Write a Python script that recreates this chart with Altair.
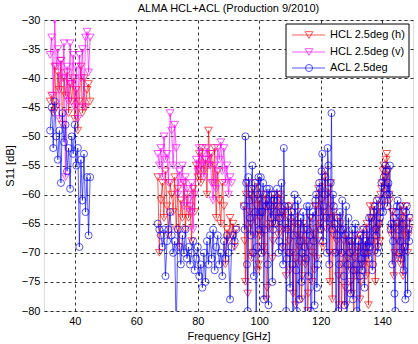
import altair as alt
import pandas as pd

# ---------------- data ----------------
band1_freq = [32.0, 32.5, 33.0, 33.5, 34.0, 34.5, 35.0, 35.5, 36.0, 36.5,
              37.0, 37.5, 38.0, 38.5, 39.0, 39.5, 40.0, 40.5, 41.0, 41.5,
              42.0, 42.5, 43.0, 43.5, 44.0, 44.5, 45.0]
band2_freq = [67.0, 67.5, 68.0, 68.5, 69.0, 69.5, 70.0, 70.5, 71.0, 71.5,
              72.0, 72.5, 73.0, 73.5, 74.0, 74.5, 75.0, 75.5, 76.0, 76.5,
              77.0, 77.5, 78.0, 78.5, 79.0, 79.5, 80.0, 80.5, 81.0, 81.5,
              82.0, 82.5, 83.0, 83.5, 84.0, 84.5, 85.0, 85.5, 86.0, 86.5,
              87.0, 87.5, 88.0, 88.5, 89.0, 89.5, 90.0, 90.5, 91.0, 91.5,
              92.0, 92.5]
band3_freq = [95.0, 95.5, 96.0, 96.5, 97.0, 97.5, 98.0, 98.5, 99.0, 99.5,
              100.0, 100.5, 101.0, 101.5, 102.0, 102.5, 103.0, 103.5, 104.0, 104.5,
              105.0, 105.5, 106.0, 106.5, 107.0, 107.5, 108.0, 108.5, 109.0, 109.5,
              110.0, 110.5, 111.0, 111.5, 112.0, 112.5, 113.0, 113.5, 114.0, 114.5,
              115.0, 115.5, 116.0, 116.5, 117.0, 117.5, 118.0, 118.5, 119.0, 119.5,
              120.0, 120.5, 121.0, 121.5, 122.0, 122.5, 123.0, 123.5, 124.0, 124.5,
              125.0, 125.5, 126.0, 126.5, 127.0, 127.5, 128.0, 128.5, 129.0, 129.5,
              130.0, 130.5, 131.0, 131.5, 132.0, 132.5, 133.0, 133.5, 134.0, 134.5,
              135.0, 135.5, 136.0, 136.5, 137.0, 137.5, 138.0, 138.5, 139.0, 139.5,
              140.0, 140.5, 141.0, 141.5, 142.0, 142.5, 143.0, 143.5, 144.0, 144.5,
              145.0, 145.5, 146.0, 146.5, 147.0, 147.5, 148.0, 148.5, 149.0]
band3b_freq = [95.25, 95.75, 96.25, 96.75, 97.25, 97.75, 98.25, 98.75, 99.25, 99.75,
               100.25, 100.75, 101.25, 101.75, 102.25, 102.75, 103.25, 103.75, 104.25, 104.75,
               105.25, 105.75, 106.25, 106.75, 107.25, 107.75, 108.25, 108.75, 109.25, 109.75,
               110.25, 110.75, 111.25, 111.75, 112.25, 112.75, 113.25, 113.75, 114.25, 114.75,
               115.25, 115.75, 116.25, 116.75, 117.25, 117.75, 118.25, 118.75, 119.25, 119.75,
               120.25, 120.75, 121.25, 121.75, 122.25, 122.75, 123.25, 123.75, 124.25, 124.75,
               125.25, 125.75, 126.25, 126.75, 127.25, 127.75, 128.25, 128.75, 129.25, 129.75,
               130.25, 130.75, 131.25, 131.75, 132.25, 132.75, 133.25, 133.75, 134.25, 134.75,
               135.25, 135.75, 136.25, 136.75, 137.25, 137.75, 138.25, 138.75, 139.25, 139.75,
               140.25, 140.75, 141.25, 141.75, 142.25, 142.75, 143.25, 143.75, 144.25, 144.75,
               145.25, 145.75, 146.25, 146.75, 147.25, 147.75, 148.25, 148.75]

hcl_h_b1 = [-44, -43, -46, -38, -45, -39, -42, -37, -48, -40,
            -43, -39, -46, -41, -44, -40, -47, -42, -49, -44,
            -38, -46, -40, -45, -42, -41, -44]
hcl_v_b1 = [-36, -33, -43, -30, -38, -35, -47, -37, -40, -34,
            -57, -38, -44, -34, -41, -36, -45, -38, -47, -36,
            -40, -35, -45, -33, -32, -39, -33]
acl_b1 = [-49, -45, -52, -44, -50, -54, -49, -58, -46, -51,
          -48, -56, -52, -59, -50, -53, -48, -55, -52, -69,
          -54, -61, -53, -63, -57, -67, -57]

hcl_h_b2 = [-57, -70, -61, -58, -64, -56, -62, -67, -58, -60,
            -63, -57, -66, -59, -69, -61, -64, -58, -66, -60,
            -64, -62, -68, -59, -63, -55, -57, -53, -58, -52,
            -56, -54, -60, -49, -55, -53, -58, -52, -64, -56,
            -61, -65, -58, -62, -72, -66, -68, -64, -67, -65,
            -69, -66]
hcl_v_b2 = [-53, -55, -52, -57, -50, -54, -53, -58, -46, -49,
            -55, -48, -52, -60, -56, -58, -55, -62, -57, -59,
            -61, -63, -58, -66, -60, -54, -56, -52, -55, -53,
            -57, -54, -52, -55, -53, -58, -61, -55, -59, -52,
            -54, -51, -56, -52, -58, -55, -60, -57, -58]
acl_b2 = [-65, -66, -67, -69, -66, -74, -68, -66, -63, -67,
          -70, -68, -85, -66, -69, -72, -67, -70, -66, -71,
          -69, -72, -70, -68, -73, -71, -69, -74, -72, -76,
          -70, -75, -68, -72, -67, -71, -66, -73, -69, -67,
          -72, -70, -74, -68, -71, -67, -70, -78, -69, -67,
          -68, -66]

hcl_h_b3 = [-62, -75, -58, -66, -60, -71, -59, -64, -62, -73,
            -61, -67, -63, -70, -60, -76, -62, -65, -61, -68,
            -62, -64, -60, -66, -61, -63, -66, -62, -70, -64,
            -73, -66, -77, -65, -71, -63, -69, -67, -74, -65,
            -72, -68, -77, -64, -70, -66, -73, -62, -68, -60,
            -65, -58, -63, -56, -66, -59, -75, -62, -67, -64,
            -70, -66, -79, -65, -72, -68, -76, -67, -73, -69,
            -77, -68, -71, -74, -70, -67, -75, -69, -72, -68,
            -65, -79, -62, -68, -64, -66, -63, -69, -65, -60,
            -58, -55, -57, -53, -56, -61, -67, -63, -70, -65,
            -68, -64, -72, -66, -63, -69, -65, -67, -64]
hcl_h_b3b = [-68, -60, -77, -63, -65, -70, -61, -67, -58, -72,
             -64, -60, -69, -62, -78, -61, -66, -63, -71, -60,
             -65, -62, -67, -60, -64, -69, -63, -74, -66, -68,
             -62, -70, -64, -79, -67, -72, -65, -78, -68, -71,
             -66, -80, -69, -64, -75, -67, -62, -71, -59, -66,
             -61, -69, -57, -64, -60, -70, -58, -78, -63, -66,
             -68, -74, -64, -82, -70, -66, -79, -71, -68, -75,
             -70, -81, -67, -73, -69, -78, -72, -66, -70, -74,
             -67, -72, -64, -70, -62, -75, -66, -61, -68, -59,
             -56, -62, -54, -59, -60, -66, -63, -74, -66, -71,
             -65, -70, -62, -74, -67, -62, -70, -66]
acl_b3 = [-62, -50, -72, -57, -64, -59, -70, -58, -85, -60,
          -66, -57, -63, -78, -61, -59, -79, -62, -60, -66,
          -60, -63, -61, -68, -63, -69, -52, -65, -71, -62,
          -76, -63, -85, -60, -73, -61, -78, -64, -70, -66,
          -85, -62, -74, -67, -85, -63, -79, -60, -72, -58,
          -66, -53, -62, -57, -70, -55, -64, -46, -60, -65,
          -85, -64, -72, -66, -61, -74, -67, -85, -64, -70,
          -68, -78, -66, -72, -69, -85, -67, -73, -70, -68,
          -66, -71, -69, -64, -72, -62, -67, -70, -65, -63,
          -61, -57, -55, -60, -58, -55, -65, -68, -77, -63,
          -61, -70, -68, -64, -73, -78, -62, -66, -64]
acl_b3b = [-66, -58, -80, -61, -67, -55, -74, -63, -69, -57,
           -63, -70, -58, -66, -62, -72, -59, -64, -75, -61,
           -65, -59, -70, -64, -58, -72, -62, -80, -66, -70,
           -64, -72, -67, -62, -80, -65, -68, -75, -63, -69,
           -71, -66, -62, -80, -64, -68, -61, -76, -63, -59,
           -56, -68, -60, -64, -52, -72, -58, -66, -62, -70,
           -67, -80, -63, -70, -66, -79, -62, -72, -68, -77,
           -66, -73, -65, -80, -68, -74, -71, -66, -76, -69,
           -70, -64, -68, -73, -63, -66, -61, -69, -64, -58,
           -63, -59, -56, -62, -60, -66, -72, -64, -80, -62,
           -66, -62, -71, -65, -69, -63, -77, -68]

series_names = ["HCL 2.5deg (h)", "HCL 2.5deg (v)", "ACL 2.5deg"]
series_colors = ["#ff0000", "#ff00ff", "#0000ff"]
x_ticks = [40, 60, 80, 100, 120, 140]
y_ticks = [-30, -35, -40, -45, -50, -55, -60, -65, -70, -75, -80]

rows = []
def add(series, seg, freqs, vals):
    for f, v in zip(freqs, vals):
        rows.append({"series": series, "seg": series + str(seg), "f": f, "v": v})

add(series_names[0], 1, band1_freq, hcl_h_b1)
add(series_names[0], 2, band2_freq, hcl_h_b2)
add(series_names[0], 3, band3_freq, hcl_h_b3)
add(series_names[0], 3, band3b_freq, hcl_h_b3b)
add(series_names[1], 1, band1_freq, hcl_v_b1)
add(series_names[1], 2, band2_freq, hcl_v_b2)
add(series_names[2], 1, band1_freq, acl_b1)
add(series_names[2], 2, band2_freq, acl_b2)
add(series_names[2], 3, band3_freq, acl_b3)
add(series_names[2], 3, band3b_freq, acl_b3b)
df = pd.DataFrame(rows).sort_values(["series", "seg", "f"]).reset_index(drop=True)

FONT = "Liberation Sans"
W, H = 369, 291

xscale = alt.Scale(domain=[30, 150], nice=False, zero=False)
yscale = alt.Scale(domain=[-80, -30], nice=False, zero=False)
xax = alt.Axis(values=x_ticks, title="Frequency [GHz]", grid=True, gridDash=[3, 3],
               gridColor="#000000", gridOpacity=0.8, ticks=False, domain=False,
               labelFontSize=11, titleFontSize=11, titleFontWeight="normal",
               labelColor="black", titleColor="black", labelFont=FONT, titleFont=FONT,
               labelPadding=4, titlePadding=4)
yax = alt.Axis(values=y_ticks, title="S11 [dB]", grid=True, gridDash=[3, 3],
               gridColor="#000000", gridOpacity=0.8, ticks=False, domain=False,
               labelFontSize=11, titleFontSize=11, titleFontWeight="normal",
               labelColor="black", titleColor="black", labelFont=FONT, titleFont=FONT,
               labelPadding=4, titlePadding=6)

layers = []
for name, col in zip(series_names, series_colors):
    sub = df[df["series"] == name]
    shape = "circle" if name.startswith("ACL") else "triangle-down"
    size = 50 if shape == "circle" else 60
    base = alt.Chart(sub)
    line = base.mark_line(color=col, strokeWidth=1, opacity=0.65, clip=True).encode(
        x=alt.X("f:Q", scale=xscale, axis=xax),
        y=alt.Y("v:Q", scale=yscale, axis=yax),
        detail="seg:N",
        order="f:Q",
    )
    pts = base.mark_point(shape=shape, size=size, color=col, filled=False,
                          strokeWidth=0.9, opacity=0.75, clip=True).encode(
        x=alt.X("f:Q", scale=xscale, axis=xax),
        y=alt.Y("v:Q", scale=yscale, axis=yax),
    )
    layers += [line, pts]

# legend (drawn manually, MATLAB style)
leg_y = [15, 32, 48]
box = alt.Chart(df.head(1)).mark_rect(fill="white", stroke="black", strokeWidth=1).encode(
    x=alt.value(242), x2=alt.value(365), y=alt.value(4), y2=alt.value(57))
layers.append(box)
for name, col, ly in zip(series_names, series_colors, leg_y):
    shape = "circle" if name.startswith("ACL") else "triangle-down"
    size = 50 if shape == "circle" else 60
    one = alt.Chart(df.head(1))
    layers.append(one.mark_rule(color=col, strokeWidth=1, opacity=0.65).encode(
        x=alt.value(248), x2=alt.value(281), y=alt.value(ly)))
    layers.append(one.mark_point(shape=shape, size=size, color=col, filled=False,
                                 strokeWidth=0.9, opacity=0.75).encode(
        x=alt.value(265), y=alt.value(ly)))
    layers.append(one.mark_text(text=name, align="left", baseline="middle",
                                font=FONT, fontSize=11, color="black").encode(
        x=alt.value(286), y=alt.value(ly)))

chart = alt.layer(*layers).properties(
    width=W, height=H,
    title=alt.TitleParams("ALMA HCL+ACL (Production 9/2010)", font=FONT, fontSize=11,
                          fontWeight="normal", color="black", anchor="middle", offset=0),
    autosize=alt.AutoSizeParams(type="none"),
    padding={"left": 44, "top": 20, "right": 5, "bottom": 33},
).configure_view(stroke="black", strokeWidth=1).configure(background="white")

chart.save("out.html", embed_options={"renderer": "svg", "actions": False})
